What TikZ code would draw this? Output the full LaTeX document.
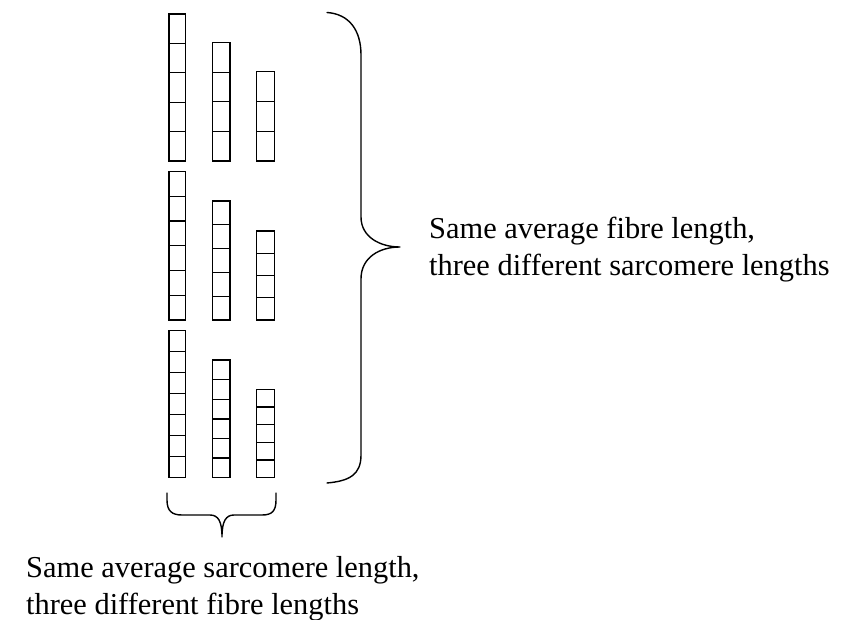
\documentclass[tikz,border=0pt]{standalone}
\usepackage{fontspec}
\setmainfont{Liberation Serif}
\begin{document}
\begin{tikzpicture}[x=1pt,y=-1pt,
  cell/.style={draw=black,line width=1.3pt},
  bracepath/.style={draw=black,line width=1.4pt,line cap=round,line join=round},
  lbl/.style={anchor=base west,inner sep=0pt,font=\fontsize{30.4}{37}\selectfont}]
\path[use as bounding box] (0,0) rectangle (856,620);
% columns: left x, right x, top y, bottom y, number of cells
\foreach \xl/\xr/\yt/\yb/\n in {
  169/185.5/14/161/5, 212.7/230/42.7/161/4, 256.7/274.5/71.7/161/3,
  169/185.5/171.7/320/6, 212.7/230/201/320/5, 256.7/274.5/231/320/4,
  169/185.5/330.7/477.7/7, 212.7/230/360/477.7/6, 256.7/274.5/389.3/477.7/5}{
  \pgfmathsetmacro{\hh}{(\yb-\yt)/\n}
  \foreach \k in {1,...,\n}{
    \draw[cell] (\xl,{\yt+(\k-1)*\hh}) rectangle (\xr,{\yt+\k*\hh});
  }
}
% right brace
\draw[bracepath] (327,12.5) .. controls (349,14) and (361,30) .. (361,55)
  -- (361,217) .. controls (361,237) and (380,247) .. (400,247)
  .. controls (380,247) and (361,257) .. (361,279)
  -- (361,455) .. controls (361,475) and (349,481) .. (327,483);
% bottom brace
\draw[bracepath] (167,493) -- (167,500) .. controls (167,511) and (172,515) .. (182,515)
  -- (210,515) .. controls (218,515) and (222,521) .. (222,537)
  .. controls (222,521) and (226,515) .. (234,515)
  -- (262,515) .. controls (272,515) and (276,511) .. (276,500) -- (276,493);
% labels
\node[lbl] (r1) at (429,239) {Same average fibre length,};
\node[lbl] (r2) at (429,276) {three different sarcomere lengths};
\node[lbl] (b1) at (26,577) {Same average sarcomere length,};
\node[lbl] (b2) at (26,614) {three different fibre lengths};
\end{tikzpicture}
\end{document}
